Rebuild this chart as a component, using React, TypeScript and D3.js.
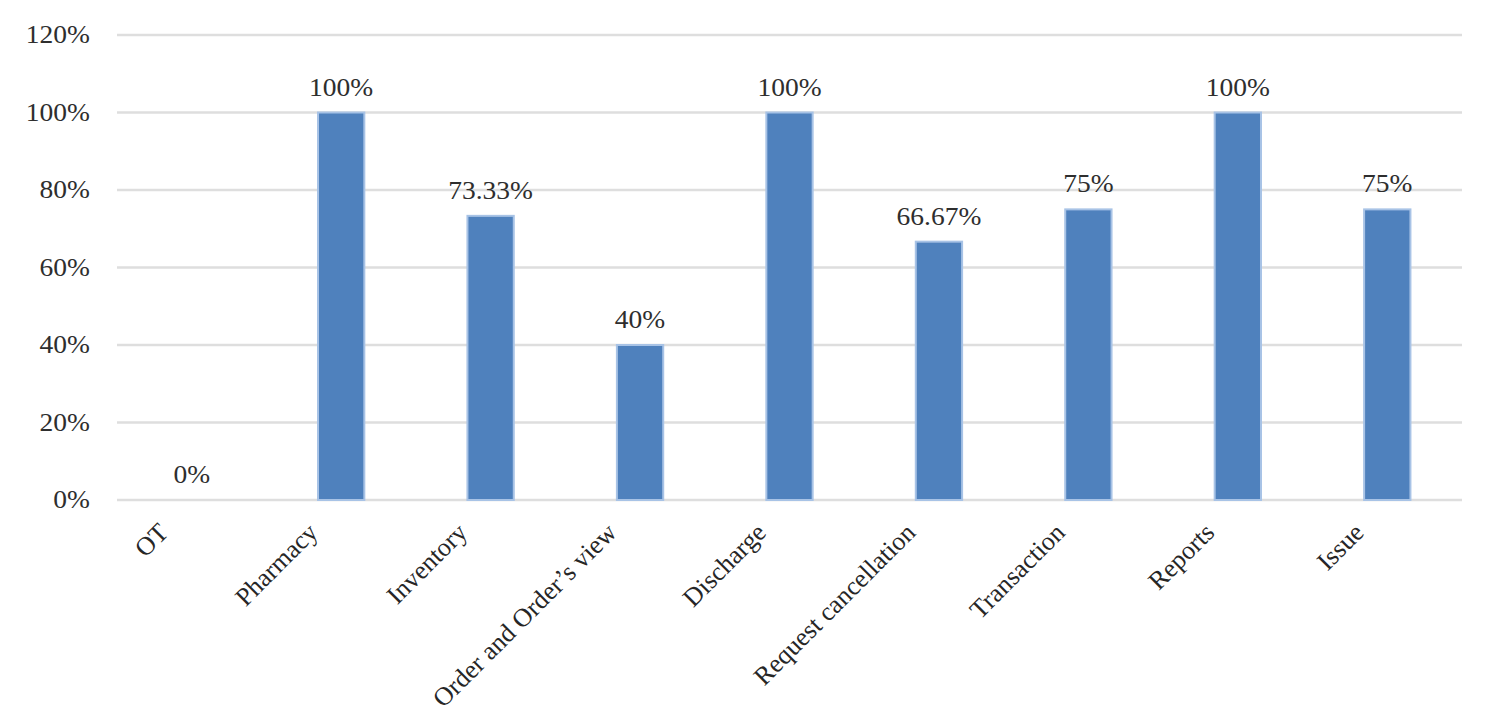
import { scaleBand, scaleLinear } from "d3";

const categories = [
    "OT",
    "Pharmacy",
    "Inventory",
    "Order and Order\u2019s view",
    "Discharge",
    "Request cancellation",
    "Transaction",
    "Reports",
    "Issue",
];
const values = [0, 1, 0.7333, 0.4, 1, 0.6667, 0.75, 1, 0.75];
const valueLabels = ["0%", "100%", "73.33%", "40%", "100%", "66.67%", "75%", "100%", "75%"];
const yTicks = [0, 0.2, 0.4, 0.6, 0.8, 1, 1.2];

const font = "'Liberation Serif', 'Times New Roman', serif";
const textColor = "#2e2e2e";
const stretch = 1.1;

export default function App() {
    const width = 1503;
    const height = 722;
    const left = 117;
    const right = 1462;
    const top = 35;
    const bottom = 500;

    const x = scaleBand<string>()
        .domain(categories)
        .range([left, right])
        .paddingInner(0.69)
        .paddingOuter(0.345);
    const y = scaleLinear().domain([0, 1.2]).range([bottom, top]);

    return (
        <svg
            width={width}
            height={height}
            style={{ position: "absolute", left: 0, top: 0, background: "#fff" }}
        >
            {/* grid + y ticks */}
            {yTicks.map((t) => (
                <g key={`tick-${t}`}>
                    <line
                        x1={left}
                        x2={right}
                        y1={y(t)}
                        y2={y(t)}
                        stroke="#dedede"
                        strokeWidth={2.5}
                    />
                    <text
                        transform={`translate(90, ${y(t) + 8}) scale(${stretch}, 1)`}
                        textAnchor="end"
                        fontFamily={font}
                        fontSize={25}
                        fill={textColor}
                    >
                        {`${Math.round(t * 100)}%`}
                    </text>
                </g>
            ))}

            {/* bars */}
            {categories.map((c, i) => (
                <rect
                    key={`bar-${c}`}
                    x={x(c)}
                    y={y(values[i])}
                    width={x.bandwidth()}
                    height={bottom - y(values[i])}
                    fill="#4f81bd"
                    stroke="#a8c3e6"
                    strokeWidth={values[i] > 0 ? 2 : 0}
                />
            ))}

            {/* value labels */}
            {categories.map((c, i) => (
                <text
                    key={`val-${c}`}
                    transform={`translate(${(x(c) ?? 0) + x.bandwidth() / 2}, ${y(values[i]) - 17}) scale(${stretch}, 1)`}
                    textAnchor="middle"
                    fontFamily={font}
                    fontSize={25}
                    fill={textColor}
                >
                    {valueLabels[i]}
                </text>
            ))}

            {/* category labels */}
            {categories.map((c) => (
                <text
                    key={`cat-${c}`}
                    transform={`translate(${(x(c) ?? 0) + x.bandwidth() / 2 - 22}, 534) rotate(-45)`}
                    textAnchor="end"
                    fontFamily={font}
                    fontSize={26}
                    fill="#262626"
                >
                    {c}
                </text>
            ))}
        </svg>
    );
}
